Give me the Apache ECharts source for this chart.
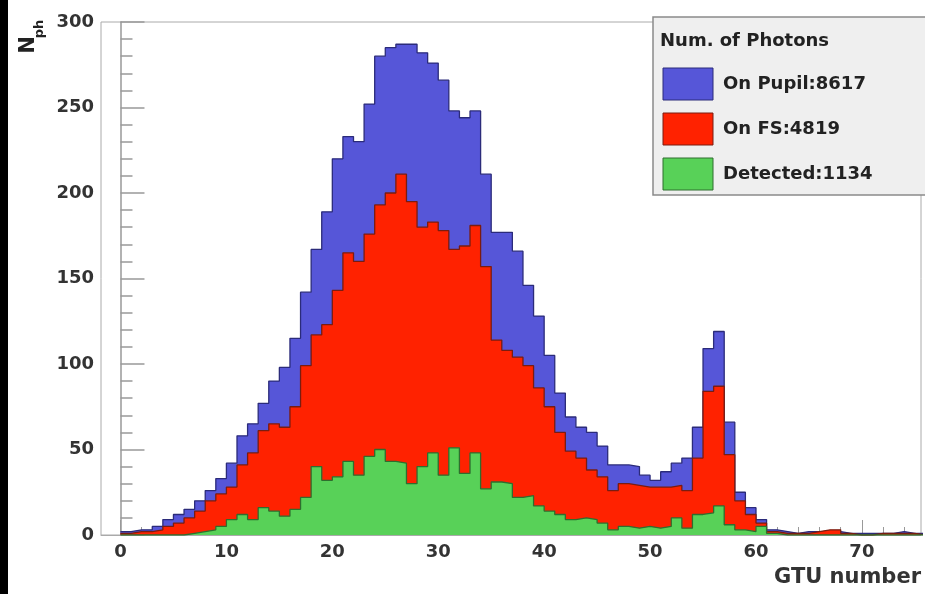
<!DOCTYPE html>
<html>
<head>
<meta charset="utf-8">
<script src="https://cdn.jsdelivr.net/npm/echarts@6/dist/echarts.min.js"></script>
<style>
html,body{margin:0;padding:0;background:#fff;}
#chart{width:925px;height:594px;}
</style>
</head>
<body>
<div id="chart"></div>
<script>
// Bin k covers GTU [k, k+1)
const binStart = 0;
const binWidth = 1;
const pupil = [2,3,3,5,9,12,15,20,26,33,42,58,65,77,90,98,115,142,167,189,
  220,233,230,252,280,285,287,287,282,276,266,248,244,248,211,177,177,166,146,128,
  105,83,69,63,60,52,41,41,40,35,32,37,42,45,63,109,119,66,25,16,
  9,3,2,1,2,2,1,2,1,1,1,1,1,2,1,1];
const fs = [1,2,2,3,5,7,10,14,20,24,28,41,48,61,65,63,75,99,117,123,
  143,165,160,176,193,200,211,195,180,183,178,167,169,181,157,114,108,104,99,86,
  75,60,49,45,38,34,26,30,29,28,28,28,29,26,45,84,87,47,20,12,
  7,2,1,1,1,2,3,3,1,0,0,1,1,1,1,0];
const detected = [0,0,0,0,0,0,1,2,3,5,9,12,9,16,14,11,15,22,40,32,
  34,43,35,46,50,43,42,30,40,48,35,51,36,48,27,31,30,22,23,17,
  14,12,9,10,9,7,3,5,4,5,4,5,10,4,12,13,17,6,3,2,
  5,1,0,0,0,0,0,0,0,0,0,0,0,0,0,0];
const seriesNames = ['On Pupil:8617', 'On FS:4819', 'Detected:1134'];
const legendTitle = 'Num. of Photons';
const yTicks = [0, 50, 100, 150, 200, 250, 300];
const xMajorTicks = [0, 10, 20, 30, 40, 50, 60, 70];
const xMinorTicks = [2,4,6,8,12,14,16,18,22,24,26,28,32,34,36,38,42,44,46,48,52,54,56,58,62,64,66,68,72,74];
const xTitle = 'GTU number';

const fills = ['#5656d8', '#ff2200', '#58d158'];
const edges = ['#2b2b7a', '#7a1c10', '#2e6e2e'];
const FONT = 'DejaVu Sans';

function stepData(arr) {
  const pts = arr.map((v, i) => [binStart + i * binWidth, v]);
  pts.push([binStart + arr.length * binWidth, 0]);
  return pts;
}

const chart = echarts.init(document.getElementById('chart'), null, {renderer: 'canvas'});
const labelStyle = {fontFamily: FONT, fontWeight: 'bold', fontSize: 18, color: '#333'};

const option = {
  animation: false,
  backgroundColor: '#ffffff',
  grid: {left: 101, right: 4, top: 22, bottom: 59, show: true, borderColor: '#aaaaaa', borderWidth: 1, backgroundColor: 'transparent'},
  xAxis: [{
    type: 'value', min: -1.84, max: 75.58, position: 'bottom',
    axisLine: {show: true, onZero: false, lineStyle: {color: '#aaaaaa', width: 1}},
    axisTick: {show: true, inside: true, length: 15, customValues: xMajorTicks, lineStyle: {color: '#999999'}},
    axisLabel: Object.assign({show: true, margin: 8, customValues: xMajorTicks}, labelStyle),
    splitLine: {show: false}
  }, {
    type: 'value', min: -1.84, max: 75.58, position: 'bottom', gridIndex: 0,
    axisLine: {show: false},
    axisTick: {show: true, inside: true, length: 8, customValues: xMinorTicks, lineStyle: {color: '#999999'}},
    axisLabel: {show: false},
    splitLine: {show: false}
  }],
  yAxis: {
    type: 'value', min: 0, max: 300, interval: 50,
    axisLine: {show: true, lineStyle: {color: '#999999', width: 1.5}},
    axisTick: {show: true, inside: true, length: 24, lineStyle: {color: '#999999', width: 1.5}},
    minorTick: {show: true, splitNumber: 5, length: 12, lineStyle: {color: '#999999', width: 1.5}},
    axisLabel: Object.assign({show: true, margin: 7, customValues: yTicks}, labelStyle),
    splitLine: {show: false}
  },
  series: [pupil, fs, detected].map((arr, i) => ({
    type: 'line', name: seriesNames[i], step: 'end', data: stepData(arr),
    xAxisIndex: 0, yAxisIndex: 0,
    showSymbol: false, symbol: 'none',
    lineStyle: {color: edges[i], width: 1.3},
    areaStyle: {color: fills[i], opacity: 1},
    z: 2 + i
  })),
  graphic: [
    {type: 'rect', shape: {x: 0, y: 0, width: 8, height: 594}, style: {fill: '#000'}, z: 100},
    {type: 'text', x: 29, y: 45, rotation: Math.PI / 2,
      style: {text: 'N', font: 'bold 21px "DejaVu Sans"', fill: '#222', align: 'center', verticalAlign: 'middle'}, z: 100},
    {type: 'text', x: 40, y: 29, rotation: Math.PI / 2,
      style: {text: 'ph', font: 'bold 13px "DejaVu Sans"', fill: '#222', align: 'center', verticalAlign: 'middle'}, z: 100},
    {type: 'text', x: 921, y: 578,
      style: {text: xTitle, font: 'bold 21px "DejaVu Sans"', fill: '#333', align: 'right', verticalAlign: 'middle'}, z: 100},
    {type: 'rect', shape: {x: 653, y: 17, width: 300, height: 178}, style: {fill: '#efefef', stroke: '#8a8a8a', lineWidth: 1.5}, z: 100},
    {type: 'text', x: 660, y: 41,
      style: {text: legendTitle, font: 'bold 18px "DejaVu Sans"', fill: '#222', align: 'left', verticalAlign: 'middle'}, z: 101},
    ...seriesNames.flatMap((nm, i) => [
      {type: 'rect', shape: {x: 663, y: 68 + i * 45, width: 50, height: 32},
        style: {fill: fills[i], stroke: edges[i], lineWidth: 1}, z: 101},
      {type: 'text', x: 723, y: 84 + i * 45,
        style: {text: nm, font: 'bold 18px "DejaVu Sans"', fill: '#222', align: 'left', verticalAlign: 'middle'}, z: 101}
    ])
  ]
};
chart.setOption(option);
</script>
</body>
</html>
